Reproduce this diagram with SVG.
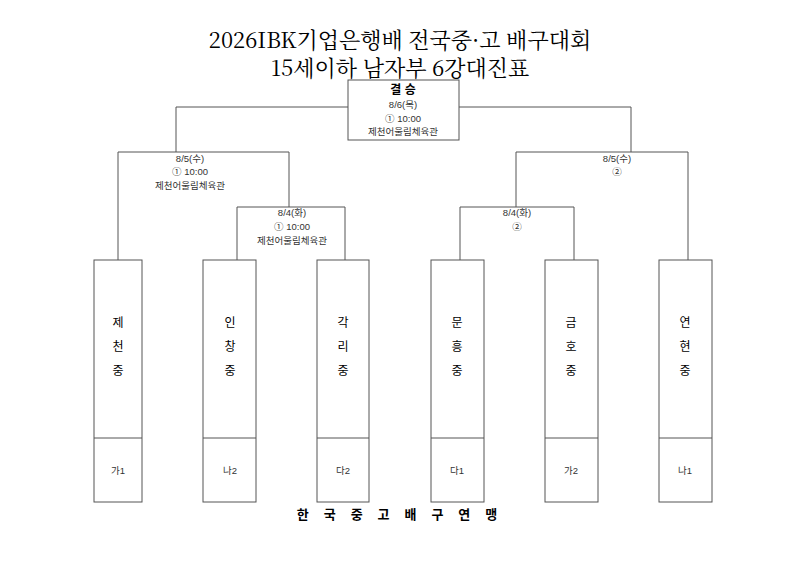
<svg xmlns="http://www.w3.org/2000/svg" width="800" height="565" viewBox="0 0 800 565">
<style>
.t{font-family:"Noto Serif CJK KR","Liberation Serif","Noto Sans CJK KR",serif;font-size:22px;text-anchor:middle;fill:#000}
.s{font-family:"Liberation Sans","Noto Sans CJK KR",sans-serif;font-size:9.5px;text-anchor:middle;fill:#333}
.n{font-family:"Liberation Sans","Noto Sans CJK KR",sans-serif;font-size:12px;text-anchor:middle;fill:#000}
.b{fill:#fff;stroke:#555;stroke-width:1}
.l{fill:none;stroke:#555;stroke-width:1}
</style>
<rect width="800" height="565" fill="#fff"/>
<text class="t" x="400" y="48">2026IBK기업은행배 전국중·고 배구대회</text>
<text class="t" x="400" y="76">15세이하 남자부 6강대진표</text>
<g id="connectors">
<path class="l" d="M348,107H176V152M459,107H631V152"/>
<path class="l" d="M118,260V152H289V207"/>
<path class="l" d="M237,260V207H345V260"/>
<path class="l" d="M516,207V152H688V260"/>
<path class="l" d="M460,260V207H574V260"/>
</g>
<g id="final">
<rect class="b" x="348" y="80" width="111" height="60"/>
<text class="n" x="403" y="94" font-weight="bold">결 승</text>
<text class="s" x="403" y="108">8/6(목)</text>
<text class="s" x="403" y="122">① 10:00</text>
<text class="s" x="403" y="135">제천어울림체육관</text>
</g>
<g id="semi-left">
<text class="s" x="190" y="162">8/5(수)</text>
<text class="s" x="190" y="175">① 10:00</text>
<text class="s" x="190" y="189">제천어울림체육관</text>
</g>
<g id="quarter-left">
<text class="s" x="292" y="216">8/4(화)</text>
<text class="s" x="292" y="230">① 10:00</text>
<text class="s" x="292" y="244">제천어울림체육관</text>
</g>
<g id="semi-right">
<text class="s" x="617" y="162">8/5(수)</text>
<text class="s" x="617" y="175">②</text>
</g>
<g id="quarter-right">
<text class="s" x="517" y="216">8/4(화)</text>
<text class="s" x="517" y="230">②</text>
</g>
<g id="team1"><rect class="b" x="94" y="260" width="48" height="242"/><line class="l" x1="94" y1="438" x2="142" y2="438"/><text class="n" x="118" y="327">제</text><text class="n" x="118" y="351">천</text><text class="n" x="118" y="375">중</text><text class="s" x="118" y="474">가1</text></g>
<g id="team2"><rect class="b" x="203" y="260" width="53" height="242"/><line class="l" x1="203" y1="438" x2="256" y2="438"/><text class="n" x="230" y="327">인</text><text class="n" x="230" y="351">창</text><text class="n" x="230" y="375">중</text><text class="s" x="230" y="474">나2</text></g>
<g id="team3"><rect class="b" x="317" y="260" width="52" height="242"/><line class="l" x1="317" y1="438" x2="369" y2="438"/><text class="n" x="343" y="327">각</text><text class="n" x="343" y="351">리</text><text class="n" x="343" y="375">중</text><text class="s" x="343" y="474">다2</text></g>
<g id="team4"><rect class="b" x="431" y="260" width="53" height="242"/><line class="l" x1="431" y1="438" x2="484" y2="438"/><text class="n" x="457" y="327">문</text><text class="n" x="457" y="351">흥</text><text class="n" x="457" y="375">중</text><text class="s" x="457" y="474">다1</text></g>
<g id="team5"><rect class="b" x="545" y="260" width="53" height="242"/><line class="l" x1="545" y1="438" x2="598" y2="438"/><text class="n" x="571" y="327">금</text><text class="n" x="571" y="351">호</text><text class="n" x="571" y="375">중</text><text class="s" x="571" y="474">가2</text></g>
<g id="team6"><rect class="b" x="659" y="260" width="53" height="242"/><line class="l" x1="659" y1="438" x2="712" y2="438"/><text class="n" x="685" y="327">연</text><text class="n" x="685" y="351">현</text><text class="n" x="685" y="375">중</text><text class="s" x="685" y="474">나1</text></g>
<text x="400" y="519" font-family="'Noto Sans CJK KR',sans-serif" font-size="13" font-weight="bold" letter-spacing="6" text-anchor="middle">한 국 중 고 배 구 연 맹</text>
</svg>
